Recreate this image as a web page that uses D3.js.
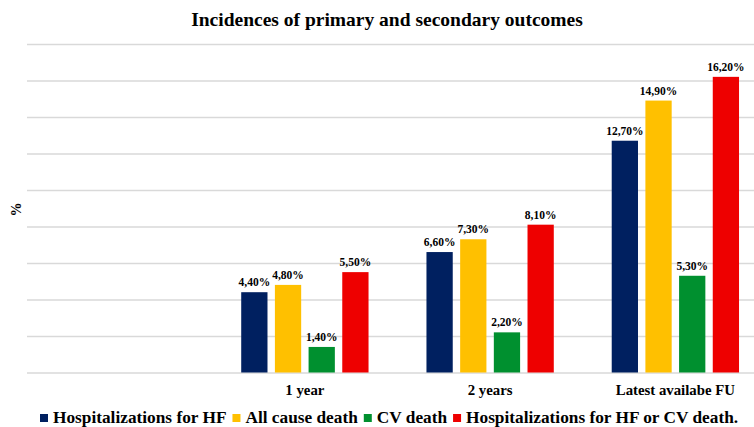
<!DOCTYPE html>
<html>
<head>
<meta charset="utf-8">
<script src="https://cdn.jsdelivr.net/npm/d3@7"></script>
<style>
  body { margin: 0; background: #fff; }
  svg text { font-family: 'Liberation Serif', 'Times New Roman', Times, 'DejaVu Serif', serif; font-weight: 700; }
</style>
</head>
<body>
<div id="chart"></div>
<script>
// data
const categories = ["", "1 year", "2 years", "Latest availabe FU"];
const seriesNames = ["Hospitalizations for HF", "All cause death", "CV death", "Hospitalizations for HF or CV death."];
const hospHF   = [null, 4.4, 6.6, 12.7];
const allDeath = [null, 4.8, 7.3, 14.9];
const cvDeath  = [null, 1.4, 2.2, 5.3];
const hospOrCV = [null, 5.5, 8.1, 16.2];
const yTicks = [0, 2, 4, 6, 8, 10, 12, 14, 16, 18];
const colours = ["#002060", "#FFC000", "#00902F", "#EE0000"];

const seriesValues = [hospHF, allDeath, cvDeath, hospOrCV];
const serif = "'Liberation Serif', 'Times New Roman', Times, 'DejaVu Serif', serif";

var width = 754, height = 427;
var svg = d3.select("#chart").append("svg")
  .attr("width", width)
  .attr("height", height)
  .style("display", "block");

// plot runs a bit past the right edge, like the original crop
let x0 = d3.scaleBand()
  .domain(categories)
  .range([27, 768]);

let x1 = d3.scaleBand()
  .domain(seriesNames)
  .range([0, x0.bandwidth()])
  .paddingInner(0.22)
  .paddingOuter(0.86);

let y = d3.scaleLinear()
  .domain([0, 18])
  .range([372.5, 44]);

// title
svg.append("text")
  .attr("x", 387)
  .attr("y", 26)
  .attr("font-family", serif)
  .style("text-anchor", "middle")
  .style("font-size", "19.5px")
  .text("Incidences of primary and secondary outcomes");

// gridlines
let yAxis = d3.axisLeft(y)
  .tickValues(yTicks)
  .tickSize(-(width - 27))
  .tickFormat("");

svg.append("g")
  .attr("class", "grid")
  .attr("transform", "translate(27,0)")
  .call(yAxis)
  .call(g => g.select(".domain").remove())
  .selectAll(".tick line")
  .attr("stroke", "#d9d9d9")
  .attr("stroke-width", 1.3);

// y axis title
svg.append("text")
  .attr("transform", "translate(21,209.5) rotate(-90)")
  .attr("font-family", serif)
  .style("text-anchor", "middle")
  .style("font-size", "14px")
  .text("%");

// bars
let rows = [];
categories.forEach((c, i) => {
  seriesNames.forEach((s, j) => {
    if (seriesValues[j][i] != null)
      rows.push({cat: c, name: s, value: seriesValues[j][i], colour: colours[j]});
  });
});

svg.selectAll("rect.bar")
  .data(rows)
  .enter()
  .append("rect")
  .attr("class", "bar")
  .attr("x", d => x0(d.cat) + x1(d.name))
  .attr("y", d => y(d.value))
  .attr("width", x1.bandwidth())
  .attr("height", d => y(0) - y(d.value))
  .style("fill", d => d.colour);

svg.selectAll("text.valueLabel")
  .data(rows)
  .enter()
  .append("text")
  .attr("class", "valueLabel")
  .attr("font-family", serif)
  .attr("x", d => x0(d.cat) + x1(d.name) + x1.bandwidth() / 2)
  .attr("y", d => y(d.value) - 6)
  .style("text-anchor", "middle")
  .style("font-size", "11.5px")
  .text(d => d3.format(".2f")(d.value).replace(".", ",") + "%");

// category labels
svg.selectAll("text.catLabel")
  .data(categories)
  .enter()
  .append("text")
  .attr("class", "catLabel")
  .attr("font-family", serif)
  .attr("x", d => x0(d) + x0.bandwidth() / 2)
  .attr("y", 394.5)
  .style("text-anchor", "middle")
  .style("font-size", "14.8px")
  .text(d => d);

// legend, laid out one after another
let lx = 40;
seriesNames.forEach((s, j) => {
  svg.append("rect")
    .attr("x", lx)
    .attr("y", 414)
    .attr("width", 8)
    .attr("height", 8)
    .style("fill", colours[j]);
  let t = svg.append("text")
    .attr("x", lx + 13)
    .attr("y", 422.5)
    .attr("font-family", serif)
    .style("font-size", "17.3px")
    .text(s);
  lx = lx + 13 + t.node().getComputedTextLength() + 6;
});
</script>
</body>
</html>
